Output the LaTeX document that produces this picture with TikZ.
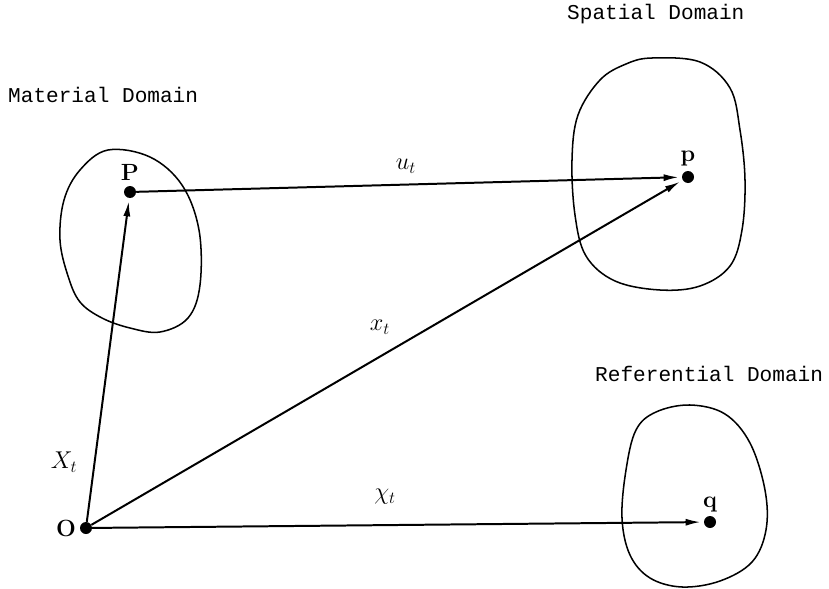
\documentclass[tikz,border=0pt]{standalone}
\usepackage{fontspec}
\newfontfamily\domfont{Liberation Mono}
\usepackage{tikz}
\usetikzlibrary{arrows.meta, positioning}

\begin{document}
\begin{tikzpicture}[x=0.03cm, y=-0.03cm,
    dot/.style={circle, fill=black, inner sep=0pt, minimum size=0.36cm},
    vec/.style={line width=1.7pt, -{Latex[length=13pt, width=6pt]}, shorten >=2.5pt},
    region/.style={line width=1.3pt},
    domlabel/.style={font=\domfont\fontsize{18}{20}\selectfont, anchor=base west, inner sep=0pt},
    ptlabel/.style={font=\bfseries\fontsize{20}{22}\selectfont, inner sep=1pt},
    vlabel/.style={font=\fontsize{22}{24}\selectfont}]
  \useasboundingbox (0,0) rectangle (829,589);

  % domains
  \draw[region] plot[smooth cycle, tension=0.6] coordinates {
    (108,150) (150,157) (182,185) (199,230) (200,285) (188,318) (160,332)
    (130,328) (102,318) (80,302) (68,276) (60,240) (64,200) (80,170)};
  \draw[region] plot[smooth cycle, tension=0.6] coordinates {
    (652,58) (700,62) (730,88) (740,130) (745,180) (742,230) (730,266)
    (700,286) (660,290) (615,281) (586,256) (575,215) (572,160) (578,115)
    (600,80) (626,64)};
  \draw[region] plot[smooth cycle, tension=0.6] coordinates {
    (690,405) (725,414) (750,443) (765,490) (766,530) (752,562) (720,581)
    (682,587) (650,578) (630,555) (622,518) (626,470) (636,430) (656,412)};

  \node[domlabel] (matlbl) at (8,102) {Material Domain};
  \node[domlabel] (spalbl) at (567,20) {Spatial Domain};
  \node[domlabel] (reflbl) at (595,381) {Referential Domain};

  % points
  \node[dot] (O) at (86,528) {};
  \node[dot] (P) at (130,192) {};
  \node[dot] (p) at (688,177) {};
  \node[dot] (q) at (710,522) {};
  \node[ptlabel, left=2pt of O] {O};
  \node[ptlabel, above=3pt of P] {P};
  \node[ptlabel, above=3pt of p] {p};
  \node[ptlabel, above=2pt of q] {q};

  % maps
  \draw[vec] (O) -- (P);
  \draw[vec] (O) -- (p);
  \draw[vec] (O) -- (q);
  \draw[vec] (P) -- (p);
  \node[vlabel] at (64,462) {$X_t$};
  \node[vlabel] at (406,166) {$u_t$};
  \node[vlabel] at (380,327) {$x_t$};
  \node[vlabel] at (385,497) {$\chi_t$};
\end{tikzpicture}
\end{document}
